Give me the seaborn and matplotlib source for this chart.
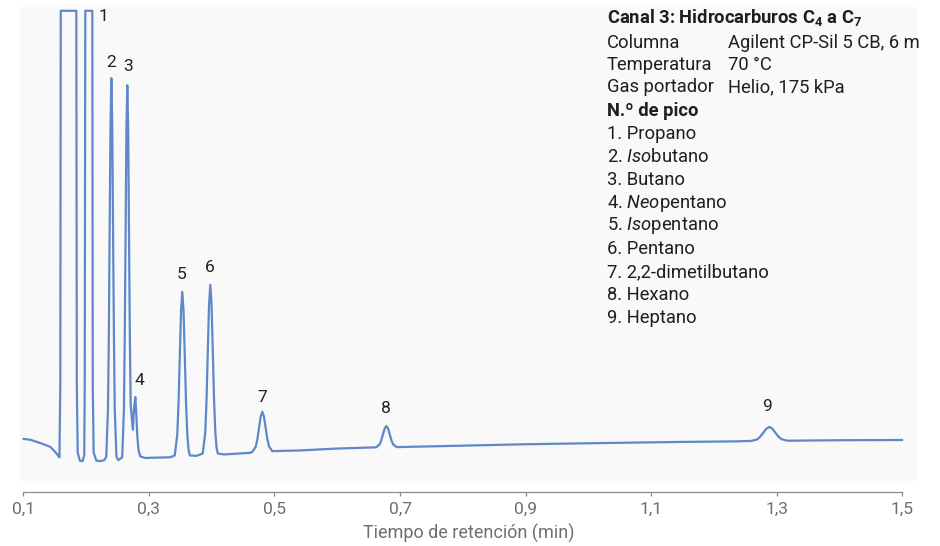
import matplotlib
matplotlib.use("Agg")
import matplotlib.pyplot as plt
import seaborn as sns
import pandas as pd

# Chromatogram trace: retention time (min) and detector signal (arbitrary units)
time = [
    0.1000, 0.1111, 0.1271, 0.1430, 0.1510, 0.1557, 0.1575,
    0.1589, 0.1596, 0.1844, 0.1852, 0.1866, 0.1900, 0.1945, 0.1970,
    0.1978, 0.1987, 0.2099, 0.2106, 0.2120, 0.2163, 0.2226, 0.2290,
    0.2321, 0.2348, 0.2362, 0.2375, 0.2389, 0.2402, 0.2416, 0.2429, 0.2443, 0.2456, 0.2483, 0.2513,
    0.2575, 0.2602, 0.2615, 0.2629, 0.2642, 0.2656, 0.2670, 0.2683, 0.2697, 0.2710, 0.2745,
    0.2762, 0.2784, 0.2800, 0.2815, 0.2835, 0.2863, 0.2943, 0.3023, 0.3341,
    0.3412, 0.3452, 0.3472, 0.3492, 0.3512, 0.3532, 0.3552, 0.3572, 0.3592, 0.3612, 0.3632, 0.3652, 0.3755,
    0.3858, 0.3898, 0.3918, 0.3938, 0.3958, 0.3978, 0.3998, 0.4018, 0.4038, 0.4058, 0.4078, 0.4098, 0.4200, 0.4615,
    0.4648, 0.4701, 0.4728, 0.4754, 0.4781, 0.4807, 0.4833, 0.4860, 0.4887, 0.4913, 0.4966, 0.5412, 0.6000,
    0.6617, 0.6672, 0.6700, 0.6727, 0.6755, 0.6782, 0.6810, 0.6837, 0.6865, 0.6892, 0.6947,
    0.7801, 0.9000, 1.0190, 1.1500, 1.2300,
    1.2597, 1.2692, 1.2740, 1.2787, 1.2835, 1.2882, 1.2930, 1.2977, 1.3025, 1.3072, 1.3167, 1.4000, 1.5000,
]
signal = [
    8.9, 8.7, 8.0, 7.2, 6.1, 5.3, 5.0,
    20.0, 99.2, 99.2, 20.0, 6.0, 4.3, 4.2, 5.5,
    20.0, 99.2, 99.2, 20.0, 6.0, 4.3, 4.2, 4.4,
    5.1, 15.2, 30.5, 53.3, 75.5, 85.0, 75.5, 53.3, 30.5, 15.2, 5.1, 4.4,
    5.0, 15.0, 30.0, 52.4, 74.2, 83.5, 74.2, 52.4, 30.0, 16.0, 10.8,
    15.0, 17.7, 14.0, 9.5, 6.5, 5.2, 4.85, 4.9, 5.0,
    5.4, 9.75, 16.4, 26.2, 35.8, 39.9, 35.8, 26.2, 16.4, 9.75, 6.6, 5.4, 5.3,
    5.8, 10.3, 17.1, 27.3, 37.2, 41.4, 37.2, 27.3, 17.1, 10.3, 7.0, 5.8, 5.6, 5.95,
    6.15, 7.2, 8.8, 11.2, 13.6, 14.6, 13.6, 11.2, 8.8, 7.3, 6.3, 6.45, 6.85,
    7.1, 7.65, 8.5, 9.8, 11.05, 11.6, 11.05, 9.8, 8.5, 7.7, 7.15,
    7.4, 7.75, 8.0, 8.25, 8.35,
    8.45, 8.8, 9.4, 10.2, 11.05, 11.4, 11.05, 10.2, 9.4, 8.85, 8.5, 8.6, 8.65,
]

# Peak table (numbered peaks)
peak_ids = ["1", "2", "3", "4", "5", "6", "7", "8", "9"]
peak_rt = [0.2043, 0.2402, 0.2656, 0.2784, 0.3532, 0.3978, 0.4807, 0.6782, 1.2882]
peak_apex = [99.2, 85.0, 83.5, 17.7, 39.9, 41.4, 14.6, 11.6, 11.4]

# Compound names: (italic prefix, rest)
compound_prefix = ["", "Iso", "", "Neo", "Iso", "", "", "", ""]
compound_rest = ["Propano", "butano", "Butano", "pentano", "pentano", "Pentano",
                 "2,2-dimetilbutano", "Hexano", "Heptano"]

cond_labels = ["Columna", "Temperatura", "Gas portador"]
cond_values = ["Agilent CP-Sil 5 CB, 6 m", "70 °C", "Helio, 175 kPa"]

x_ticks = [0.1, 0.3, 0.5, 0.7, 0.9, 1.1, 1.3, 1.5]
x_ticklabels = ["0,1", "0,3", "0,5", "0,7", "0,9", "1,1", "1,3", "1,5"]

sns.set_theme(style="white")
plt.rcParams["font.family"] = ["Roboto", "DejaVu Sans"]
plt.rcParams["mathtext.fontset"] = "custom"
plt.rcParams["mathtext.rm"] = "Roboto"
plt.rcParams["mathtext.it"] = "Roboto:italic"
plt.rcParams["mathtext.bf"] = "Roboto:bold"

W, H = 940, 546
fig = plt.figure(figsize=(W / 100, H / 100), dpi=100)
fig.patch.set_facecolor("white")


def fx(px):
    return px / W


def fy(py):
    return 1 - py / H


ax = fig.add_axes([fx(20), fy(481), fx(917) - fx(20), fy(7) - fy(481)])
ax.set_facecolor("#f9f9f9")

df = pd.DataFrame({"Tiempo": time, "Señal": signal})
sns.lineplot(data=df, x="Tiempo", y="Señal", ax=ax, sort=False, estimator=None,
             color="#5f88c9", linewidth=1.6)

ax.set_xlim(0.0947, 1.5234)
ax.set_ylim(0, 100)

# peak numbers
offsets_px = [(15, 6), (0, -16), (1, -19), (4, -17), (-1, -17), (-1, -17),
              (0, -14), (0, -18), (-2, -20)]
for pid, rt, ap, (dx, dy) in zip(peak_ids, peak_rt, peak_apex, offsets_px):
    ax.annotate(pid, xy=(rt, ap), xytext=(dx * 0.72, -dy * 0.72),
                textcoords="offset points", ha="center", va="center",
                fontsize=12.5, color="#222222")

# axis styling
for side in ["top", "left", "right"]:
    ax.spines[side].set_visible(False)
ax.spines["bottom"].set_position(("outward", 7.8))
ax.spines["bottom"].set_bounds(0.1, 1.5)
ax.spines["bottom"].set_color("#8a8a8a")
ax.spines["bottom"].set_linewidth(0.9)
ax.set_yticks([])
ax.set_xticks(x_ticks)
ax.set_xticklabels(x_ticklabels)
ax.tick_params(axis="x", direction="out", length=3.2, width=0.9, color="#8a8a8a",
               labelsize=12.5, labelcolor="#6e6e6e", pad=4, bottom=True)
ax.set_xlabel("Tiempo de retención (min)", fontsize=13, color="#6e6e6e", labelpad=5)
ax.set_ylabel("")

# method conditions and peak list
fs = 13.2
lx, vx = 607, 728
fig.text(fx(lx), fy(17), r"Canal 3: Hidrocarburos C$_\mathbf{4}$ a C$_\mathbf{7}$",
         fontsize=fs, fontweight="bold", color="#1e1e1e", va="center", ha="left")
for i, (lab, val) in enumerate(zip(cond_labels, cond_values)):
    y = 43 + 22 * i
    fig.text(fx(lx), fy(y), lab, fontsize=fs, color="#1e1e1e", va="center", ha="left")
    fig.text(fx(vx), fy(y), val, fontsize=fs, color="#1e1e1e", va="center", ha="left")
fig.text(fx(lx), fy(111), "N.º de pico", fontsize=fs, fontweight="bold",
         color="#1e1e1e", va="center", ha="left")
for i, (pid, pre, rest) in enumerate(zip(peak_ids, compound_prefix, compound_rest)):
    y = 134 + 23 * i
    label = f"{pid}. " + (r"$\mathit{" + pre + "}$" if pre else "") + rest
    fig.text(fx(lx), fy(y), label, fontsize=fs, color="#1e1e1e", va="center", ha="left")

fig.savefig("out.png", dpi=100)
